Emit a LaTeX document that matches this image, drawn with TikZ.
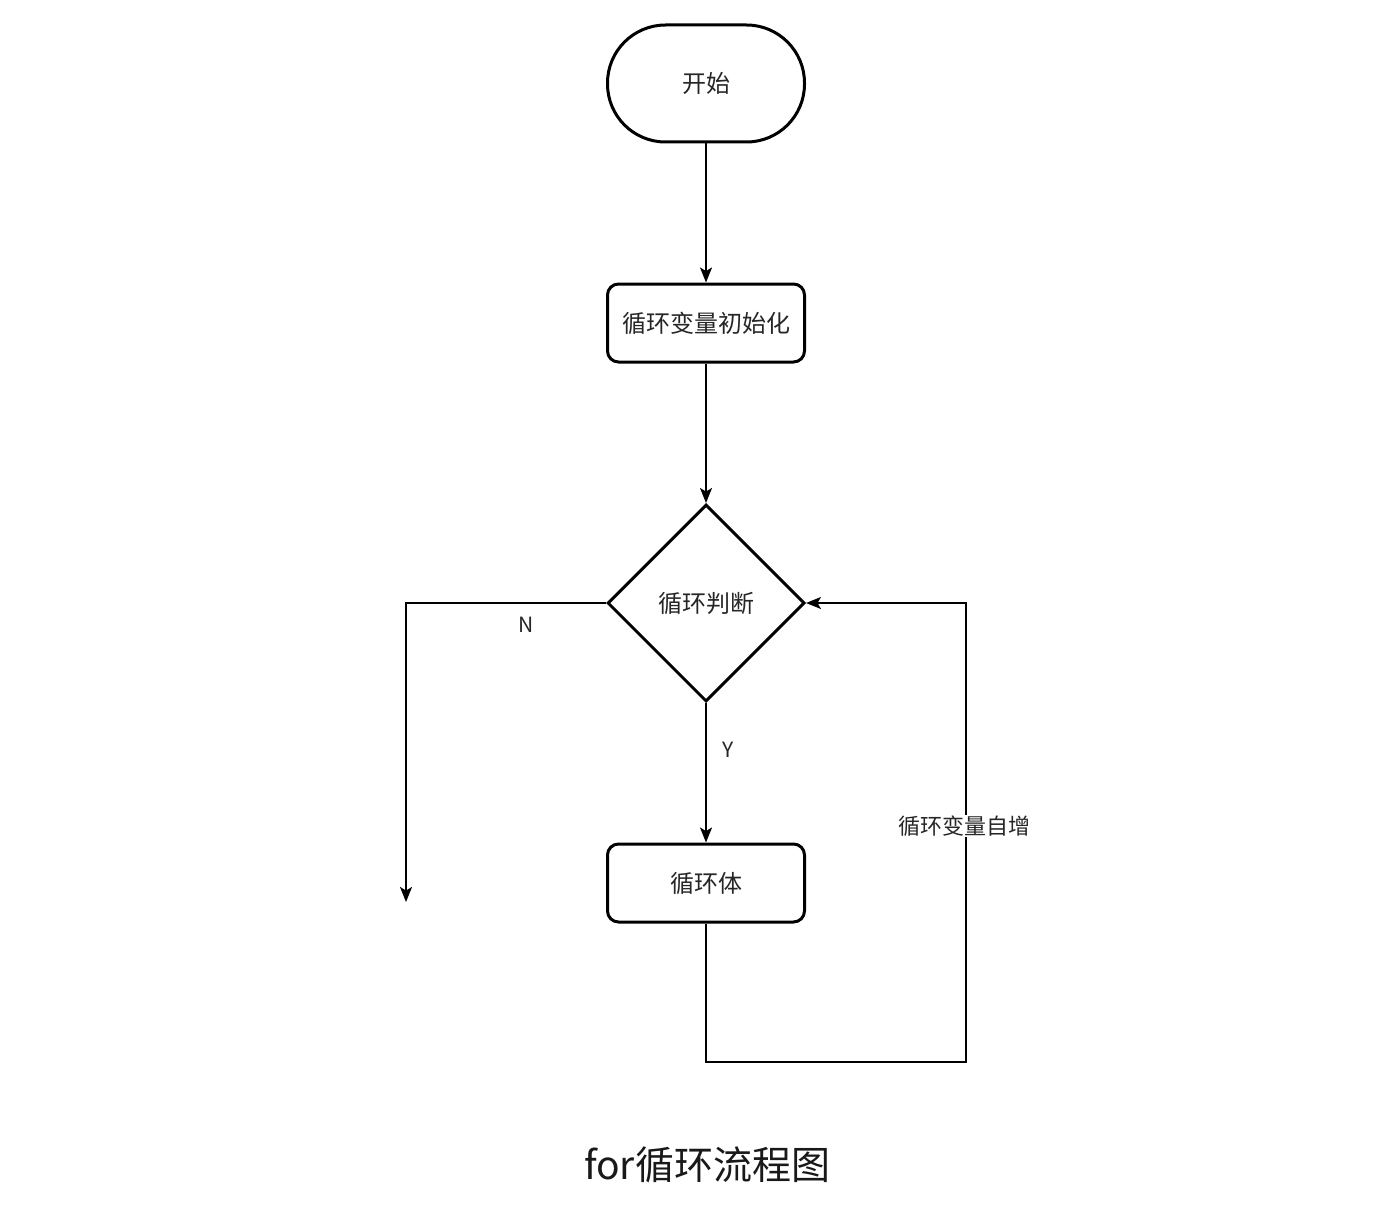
\documentclass[tikz,border=0pt]{standalone}
\usepackage{fontspec}
\setmainfont{Noto Sans CJK SC}
\usetikzlibrary{shapes.geometric,arrows.meta}
\begin{document}
\begin{tikzpicture}[x=1pt,y=-1pt,
  every node/.style={text=black!85},
  box/.style={draw=black, line width=3pt, fill=white, minimum width=197pt, minimum height=78pt, rounded corners=11pt, inner sep=0pt, font=\fontsize{24}{28}\selectfont},
  term/.style={draw=black, line width=3pt, fill=white, minimum width=197pt, minimum height=117pt, rounded corners=58pt, inner sep=0pt, font=\fontsize{24}{28}\selectfont},
  decide/.style={draw=black, line width=3pt, fill=white, shape=diamond, aspect=1, minimum width=197pt, minimum height=197pt, inner sep=0pt, font=\fontsize{24}{28}\selectfont},
  conn/.style={draw=black, line width=1.6pt, -{Stealth[length=15pt,width=12pt,inset=3.5pt]}},
  lbl/.style={font=\fontsize{21}{25}\selectfont, inner sep=1pt}
]
\useasboundingbox (0,0) rectangle (1378,1217);
\node[term] (start) at (706,83.5) {开始};
\node[box] (init) at (706,323) {循环变量初始化};
\node[decide] (judge) at (706,603) {循环判断};
\node[box] (body) at (706,883) {循环体};
\coordinate (nend) at (406,902);
\coordinate (loopc) at (966,1062);

\draw[conn] (start) -- (init);
\draw[conn] (init) -- (judge);
\draw[conn] (judge) -- (body);
\draw[conn] (judge.west) -| (nend);
\draw[conn] (body.south) |- (loopc) |- (judge.east);

\node[lbl] (ylbl) at (728,750) {Y};
\node[lbl] (nlbl) at (526,625) {N};
\node[lbl, fill=white, font=\fontsize{22}{26}\selectfont] (inc) at (964,826) {循环变量自增};
\node[font=\fontsize{39}{46}\selectfont, text=black!90] (title) at (707,1165) {for循环流程图};
\end{tikzpicture}
\end{document}
